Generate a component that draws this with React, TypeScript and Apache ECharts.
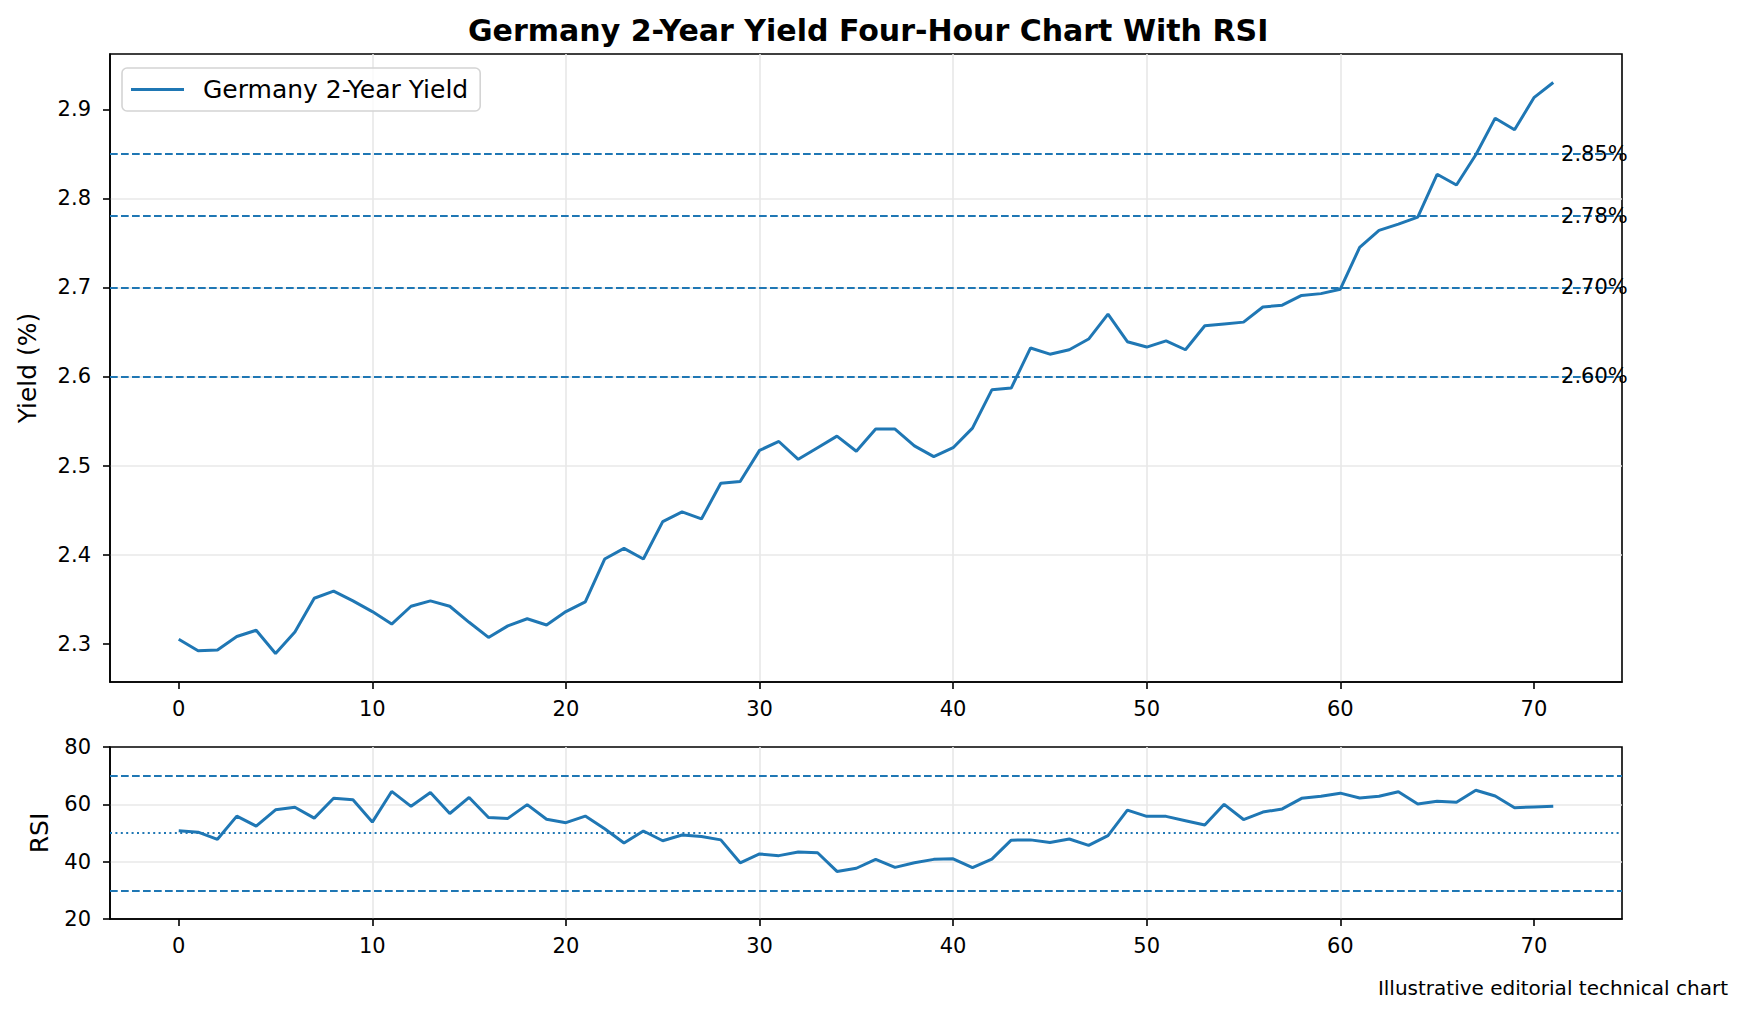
import React, { useEffect, useRef } from "react";
import * as echarts from "echarts";

const FONT = "DejaVu Sans";
const BLUE = "#1f77b4";

const TITLE = "Germany 2-Year Yield Four-Hour Chart With RSI";
const SERIES_NAME = "Germany 2-Year Yield";
const FOOTER = "Illustrative editorial technical chart";

const yields = [
  2.305, 2.292, 2.293, 2.308, 2.315, 2.289, 2.313, 2.351, 2.359, 2.348,
  2.336, 2.322, 2.342, 2.348, 2.342, 2.324, 2.307, 2.320, 2.328, 2.321,
  2.336, 2.347, 2.395, 2.407, 2.395, 2.437, 2.448, 2.440, 2.480, 2.482,
  2.517, 2.527, 2.507, 2.520, 2.533, 2.516, 2.541, 2.541, 2.522, 2.510,
  2.520, 2.542, 2.585, 2.587, 2.632, 2.625, 2.630, 2.642, 2.670, 2.639,
  2.633, 2.640, 2.630, 2.657, 2.659, 2.661, 2.678, 2.680, 2.691, 2.693,
  2.698, 2.745, 2.764, 2.771, 2.779, 2.827, 2.815, 2.849, 2.890, 2.877,
  2.913, 2.930,
];

const rsi = [
  50.8, 50.3, 47.8, 55.9, 52.4, 58.1, 59.0, 55.2, 62.1, 61.6,
  53.8, 64.5, 59.3, 64.1, 56.8, 62.4, 55.4, 55.1, 59.9, 54.8,
  53.6, 55.9, 51.5, 46.5, 50.7, 47.3, 49.3, 48.8, 47.6, 39.6,
  42.7, 42.1, 43.4, 43.1, 36.6, 37.7, 40.8, 38.0, 39.6, 40.8,
  41.0, 37.9, 40.9, 47.5, 47.6, 46.7, 47.9, 45.7, 49.1, 58.0,
  55.8, 55.8, 54.3, 52.8, 60.0, 54.7, 57.3, 58.4, 62.1, 62.8,
  63.9, 62.2, 62.8, 64.4, 60.1, 61.1, 60.7, 64.9, 62.9, 58.8,
  59.1, 59.3,
];

const levels = [2.6, 2.7, 2.78, 2.85];
const rsiBands = [70, 30];
const rsiMid = 50;

const xTicks = [0, 10, 20, 30, 40, 50, 60, 70];
const yieldTicks = [2.3, 2.4, 2.5, 2.6, 2.7, 2.8, 2.9];
const rsiTicks = [20, 40, 60, 80];

export default function App() {
  const ref = useRef<HTMLDivElement>(null);

  useEffect(() => {
    const chart = echarts.init(ref.current!, null, { renderer: "svg" });

    const n = yields.length;
    const xMin = -(n - 1) * 0.05;
    const xMax = (n - 1) * 1.05;
    const yLo = Math.min(...yields);
    const yHi = Math.max(...yields);
    const ySpan = yHi - yLo;
    const yMin = yLo - ySpan * 0.05;
    const yMax = yHi + ySpan * 0.05;
    const labelX = n - 0.6;

    const axisLine = { show: true, onZero: false, lineStyle: { color: "#000", width: 1.6 } };
    const tickStyle = { color: "#000", width: 1.6 };
    const labelStyle = { color: "#000", fontSize: 21, fontFamily: FONT };
    const nameStyle = { color: "#000", fontSize: 25, fontFamily: FONT };
    const splitLine = {
      show: true,
      showMinLine: false,
      showMaxLine: false,
      lineStyle: { color: "#e8e8e8", width: 1.6 },
    };

    const xAxisFor = (gridIndex: number) => ({
      type: "value",
      gridIndex,
      min: xMin,
      max: xMax,
      splitNumber: 8,
      axisLine,
      axisTick: { show: true, length: 7, lineStyle: tickStyle, customValues: xTicks },
      axisLabel: { ...labelStyle, margin: 16, customValues: xTicks, formatter: (v: number) => String(v) },
      splitLine,
    });

    const dash = [7.7, 3.3];

    const option = {
      animation: false,
      backgroundColor: "#fff",
      textStyle: { fontFamily: FONT },
      title: {
        text: TITLE,
        left: 468,
        top: 15,
        padding: 0,
        textStyle: { fontSize: 30, fontWeight: "bold", fontFamily: FONT, color: "#000" },
      },
      legend: {
        data: [{ name: SERIES_NAME, icon: "rect" }],
        left: 122,
        top: 68,
        padding: [9, 12, 9, 9],
        itemWidth: 53,
        itemHeight: 3,
        backgroundColor: "rgba(255,255,255,0.8)",
        borderColor: "#d4d4d4",
        borderWidth: 1.6,
        borderRadius: 5,
        textStyle: { fontSize: 25, fontFamily: FONT, color: "#000", padding: [0, 0, 0, 14] },
      },
      grid: [
        { left: 110, top: 54, width: 1512, height: 628, show: true, borderColor: "#000", borderWidth: 1.6, backgroundColor: "transparent" },
        { left: 110, top: 747, width: 1512, height: 172, show: true, borderColor: "#000", borderWidth: 1.6, backgroundColor: "transparent" },
      ],
      xAxis: [xAxisFor(0), xAxisFor(1)],
      yAxis: [
        {
          type: "value",
          gridIndex: 0,
          min: yMin,
          max: yMax,
          splitNumber: 7,
          name: "Yield (%)",
          nameLocation: "middle",
          nameGap: 70,
          nameTextStyle: nameStyle,
          axisLine,
          axisTick: { show: true, length: 7, lineStyle: tickStyle, customValues: yieldTicks },
          axisLabel: { ...labelStyle, margin: 19, customValues: yieldTicks, formatter: (v: number) => v.toFixed(1) },
          splitLine,
        },
        {
          type: "value",
          gridIndex: 1,
          min: 20,
          max: 80,
          interval: 20,
          name: "RSI",
          nameLocation: "middle",
          nameGap: 58,
          nameTextStyle: nameStyle,
          axisLine,
          axisTick: { show: true, length: 7, lineStyle: tickStyle, customValues: rsiTicks },
          axisLabel: { ...labelStyle, margin: 19, customValues: rsiTicks },
          splitLine,
        },
      ],
      series: [
        {
          type: "line",
          name: SERIES_NAME,
          xAxisIndex: 0,
          yAxisIndex: 0,
          data: yields.map((v, i) => [i, v]),
          symbol: "none",
          showSymbol: false,
          lineStyle: { color: BLUE, width: 3 },
          itemStyle: { color: BLUE },
          z: 3,
          markLine: {
            silent: true,
            symbol: ["none", "none"],
            label: { show: false },
            lineStyle: { type: dash, color: BLUE, width: 2 },
            emphasis: { disabled: true },
            data: levels.map((l) => ({ yAxis: l })),
          },
          markPoint: {
            silent: true,
            symbol: "circle",
            symbolSize: 0,
            itemStyle: { color: "transparent" },
            label: {
              show: true,
              position: "right",
              distance: 0,
              formatter: "{b}",
              color: "#000",
              fontSize: 21,
              fontFamily: FONT,
            },
            data: levels.map((l) => ({ coord: [labelX, l], name: `${l.toFixed(2)}%`, value: l })),
          },
        },
        {
          type: "line",
          name: "RSI",
          xAxisIndex: 1,
          yAxisIndex: 1,
          data: rsi.map((v, i) => [i, v]),
          symbol: "none",
          showSymbol: false,
          lineStyle: { color: BLUE, width: 3 },
          itemStyle: { color: BLUE },
          z: 3,
          markLine: {
            silent: true,
            symbol: ["none", "none"],
            label: { show: false },
            emphasis: { disabled: true },
            data: [
              ...rsiBands.map((b) => ({ yAxis: b, lineStyle: { type: dash, color: BLUE, width: 2 } })),
              { yAxis: rsiMid, lineStyle: { type: [2, 3.4], color: BLUE, width: 2 } },
            ],
          },
        },
      ],
      graphic: [
        {
          type: "text",
          right: 19,
          top: 978,
          style: { text: FOOTER, fontSize: 20, fontFamily: FONT, fill: "#000" },
        },
      ],
    };

    chart.setOption(option as any);
    return () => chart.dispose();
  }, []);

  return (
    <div
      ref={ref}
      style={{ position: "fixed", left: 0, top: 0, width: 1747, height: 1017, background: "#fff" }}
    />
  );
}
